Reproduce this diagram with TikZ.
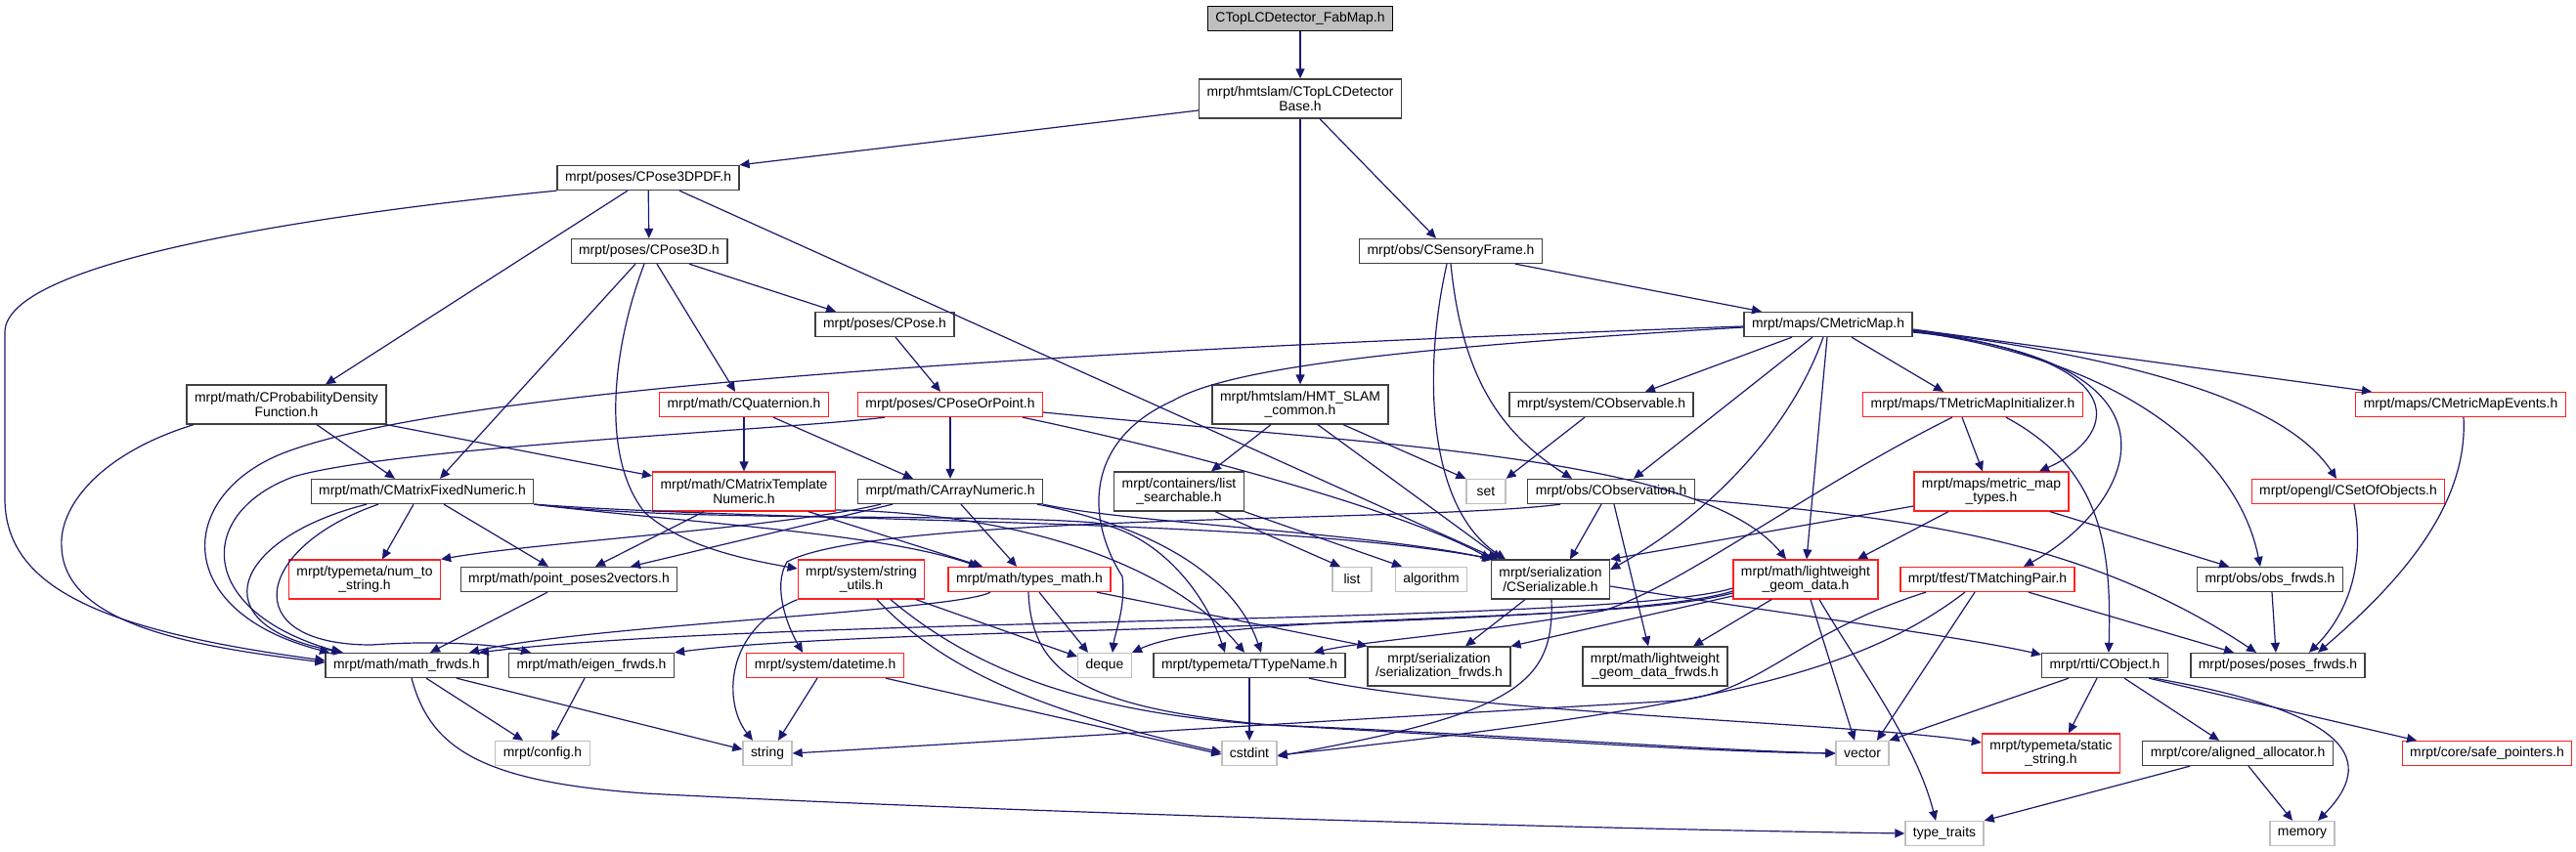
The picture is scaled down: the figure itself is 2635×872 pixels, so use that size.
\documentclass[tikz,border=0pt]{standalone}
\usepackage{fontspec}
\setmainfont{Liberation Sans}
\usetikzlibrary{arrows.meta}
\definecolor{edgec}{HTML}{191970}
\definecolor{boxc}{HTML}{404040}
\definecolor{redc}{HTML}{FF2020}
\definecolor{grayc}{HTML}{BFBFBF}
\newcommand\dfont{\fontsize{13.9pt}{14.6pt}\selectfont}
\begin{document}
\begin{tikzpicture}[x=1pt,y=-1pt,
 box/.style={draw=boxc,line width=1.3pt,fill=white,inner xsep=8pt,inner ysep=2pt,minimum height=25pt,align=center,font=\dfont},
 two/.style={minimum height=40pt},
 rbox/.style={box,draw=redc},
 gbox/.style={box,draw=grayc,minimum width=40pt},
 topbox/.style={box,draw=black,fill=grayc},
 dep/.style={draw=edgec,line width=1.2pt,-{Triangle[length=10pt,width=9pt]}}]
\fill[white] (0,0) rectangle (2635,872);
\useasboundingbox (0,0) rectangle (2635,872);
% nodes
\node[topbox] (fab) at (1330,19) {CTopLCDetector\_FabMap.h};
\node[box,two] (base) at (1330,101) {mrpt/hmtslam/CTopLCDetector\\Base.h};
\node[box] (pdf) at (663,182) {mrpt/poses/CPose3DPDF.h};
\node[box] (pose3d) at (664,257) {mrpt/poses/CPose3D.h};
\node[box] (sens) at (1484,257) {mrpt/obs/CSensoryFrame.h};
\node[box] (pose) at (905,332) {mrpt/poses/CPose.h};
\node[box] (cmm) at (1870,332) {mrpt/maps/CMetricMap.h};
\node[box,two] (cpdf) at (293,414) {mrpt/math/CProbabilityDensity\\Function.h};
\node[rbox] (quat) at (761,414) {mrpt/math/CQuaternion.h};
\node[rbox] (pop) at (972,414) {mrpt/poses/CPoseOrPoint.h};
\node[box,two] (hmt) at (1330,414) {mrpt/hmtslam/HMT\_SLAM\\\_common.h};
\node[box] (cobsv) at (1638,414) {mrpt/system/CObservable.h};
\node[rbox] (tmmi) at (2018,414) {mrpt/maps/TMetricMapInitializer.h};
\node[rbox] (cmme) at (2517,414) {mrpt/maps/CMetricMapEvents.h};
\node[box] (cmfn) at (432,503) {mrpt/math/CMatrixFixedNumeric.h};
\node[rbox,two] (cmtn) at (761,503) {mrpt/math/CMatrixTemplate\\Numeric.h};
\node[box] (can) at (972,503) {mrpt/math/CArrayNumeric.h};
\node[box,two] (lsearch) at (1206,503) {mrpt/containers/list\\\_searchable.h};
\node[gbox] (set) at (1520,503) {set};
\node[box] (cobs) at (1648,503) {mrpt/obs/CObservation.h};
\node[rbox,two] (mmt) at (2037,503) {mrpt/maps/metric\_map\\\_types.h};
\node[rbox] (csoo) at (2402,503) {mrpt/opengl/CSetOfObjects.h};
\node[rbox,two] (n2s) at (373,593) {mrpt/typemeta/num\_to\\\_string.h};
\node[box] (pp2v) at (582,593) {mrpt/math/point\_poses2vectors.h};
\node[rbox,two] (sutils) at (881,593) {mrpt/system/string\\\_utils.h};
\node[rbox] (tmath) at (1053,593) {mrpt/math/types\_math.h};
\node[gbox] (list) at (1383,593) {list};
\node[gbox] (algo) at (1464,593) {algorithm};
\node[box,two] (cser) at (1586,593) {mrpt/serialization\\/CSerializable.h};
\node[rbox,two] (lgd) at (1847,593) {mrpt/math/lightweight\\\_geom\_data.h};
\node[rbox] (tmp) at (2033,593) {mrpt/tfest/TMatchingPair.h};
\node[box] (obsf) at (2322,593) {mrpt/obs/obs\_frwds.h};
\node[box] (mf) at (416,681) {mrpt/math/math\_frwds.h};
\node[box] (ef) at (605,681) {mrpt/math/eigen\_frwds.h};
\node[rbox] (dt) at (844,681) {mrpt/system/datetime.h};
\node[gbox] (deque) at (1130,681) {deque};
\node[box] (ttn) at (1278,681) {mrpt/typemeta/TTypeName.h};
\node[box,two] (sf) at (1472,682) {mrpt/serialization\\/serialization\_frwds.h};
\node[box,two] (lgdf) at (1693,682) {mrpt/math/lightweight\\\_geom\_data\_frwds.h};
\node[box] (cobj) at (2153,681) {mrpt/rtti/CObject.h};
\node[box] (posf) at (2330,681) {mrpt/poses/poses\_frwds.h};
\node[gbox] (config) at (555,771) {mrpt/config.h};
\node[gbox] (string) at (785,771) {string};
\node[gbox] (cstdint) at (1278,771) {cstdint};
\node[gbox] (vector) at (1905,771) {vector};
\node[rbox,two] (sstr) at (2098,771) {mrpt/typemeta/static\\\_string.h};
\node[box] (aa) at (2289,771) {mrpt/core/aligned\_allocator.h};
\node[rbox] (sp) at (2544,771) {mrpt/core/safe\_pointers.h};
\node[gbox] (tt) at (1989,853) {type\_traits};
\node[gbox] (mem) at (2355,853) {memory};
% edges
\draw[dep] (fab) -- (base);
\draw[dep] ([yshift=-12pt]base.west) -- (pdf.north east);
\draw[dep] (base) -- (hmt);
\draw[dep] ([xshift=20pt]base.south) -- ([xshift=-15pt]sens.north);
\draw[dep] (pdf.south west) .. controls (300,222) and (5,270) .. (5,340) -- (5,510) .. controls (5,600) and (100,645) .. ([yshift=5pt]mf.west);
\draw[dep] ([xshift=-95pt]cpdf.south) .. controls (100,465) and (60,520) .. (63,560) .. controls (66,640) and (200,662) .. ([yshift=3pt]mf.west);
\draw[dep] (pdf) -- (pose3d);
\draw[dep] ([xshift=-21pt]pdf.south) -- ([xshift=40pt]cpdf.north);
\draw[dep] ([xshift=32pt]pdf.south) -- ([xshift=-54pt]cser.north);
\draw[dep] ([xshift=41pt]pose3d.south) -- ([xshift=-50pt]pose.north);
\draw[dep] ([xshift=8pt]pose3d.south) -- ([xshift=-9pt]quat.north);
\draw[dep] ([xshift=-14pt]pose3d.south) -- ([xshift=18pt]cmfn.north);
\draw[dep] ([xshift=-5pt]pose3d.south) .. controls (625,360) and (615,470) .. (660,525) .. controls (700,560) and (760,572) .. ([yshift=11pt]sutils.west);
\draw[dep] ([xshift=11pt]pose.south) -- ([xshift=-10pt]pop.north);
\draw[dep] ([xshift=31pt]cpdf.south) -- ([xshift=-28pt]cmfn.north);
\draw[dep] (cpdf.south east) -- ([yshift=16pt]cmtn.west);
\draw[dep] (quat) -- (cmtn);
\draw[dep] ([xshift=30pt]quat.south) -- ([xshift=-38pt]can.north);
\draw[dep] ([xshift=-67pt]pop.south) .. controls (800,440) and (400,458) .. (300,488) .. controls (200,525) and (200,625) .. ([xshift=-67pt]mf.north);
\draw[dep] (pop) -- (can);
\draw[dep] ([xshift=74pt]pop.south) .. controls (1250,470) and (1450,530) .. (cser.north west);
\draw[dep] ([yshift=-8pt]pop.east) .. controls (1400,455) and (1740,465) .. ([xshift=-20pt]lgd.north);
\draw[dep] ([xshift=-30pt]hmt.south) -- ([xshift=33pt]lsearch.north);
\draw[dep] ([xshift=44pt]hmt.south) -- (set.north west);
\draw[dep] ([xshift=18pt]hmt.south) -- ([xshift=-50pt]cser.north);
\draw[dep] ([xshift=66pt]sens.south) -- ([xshift=-68pt]cmm.north);
\draw[dep] ([xshift=-4pt]sens.south) .. controls (1455,380) and (1460,520) .. ([xshift=-46pt]cser.north);
\draw[dep] (sens.south) .. controls (1495,380) and (1530,440) .. ([xshift=-40pt]cobs.north);
\draw[dep] ([xshift=-37pt]cmm.south) -- ([xshift=45pt]cobsv.north);
\draw[dep] ([xshift=-16pt]cmm.south) -- ([xshift=23pt]cobs.north);
\draw[dep] ([xshift=-5pt]cmm.south) .. controls (1835,430) and (1760,520) .. ([yshift=10pt]cser.east);
\draw[dep] ([xshift=-1pt]cmm.south) -- ([xshift=1pt]lgd.north);
\draw[dep] ([xshift=24pt]cmm.south) -- ([xshift=-30pt]tmmi.north);
\draw[dep] ([yshift=-6pt]cmm.east) .. controls (2200,370) and (2160,450) .. ([xshift=49pt]mmt.north);
\draw[dep] ([yshift=-8pt]cmm.east) .. controls (2260,370) and (2180,520) .. ([xshift=37pt]tmp.north);
\draw[dep] ([yshift=-7pt]cmm.east) .. controls (2180,370) and (2290,470) .. ([xshift=-10pt]obsf.north);
\draw[dep] ([yshift=-6pt]cmm.east) .. controls (2250,375) and (2350,430) .. ([xshift=-12pt]csoo.north);
\draw[dep] ([yshift=-5pt]cmm.east) -- ([xshift=-91pt]cmme.north);
\draw[dep] ([yshift=-2pt]cmm.west) .. controls (1200,355) and (500,390) .. (300,460) .. controls (180,500) and (170,625) .. ([xshift=-79pt]mf.north);
\draw[dep] ([yshift=-3pt]cmm.west) .. controls (1450,355) and (1260,375) .. (1200,410) .. controls (1110,450) and (1110,530) .. (1148,590) .. controls (1152,620) and (1140,650) .. ([xshift=8pt]deque.north);
\draw[dep] ([xshift=-17pt]cobsv.south) -- (set.north east);
\draw[dep] ([xshift=-11pt]tmmi.south) -- ([xshift=-9pt]mmt.north);
\draw[dep] ([xshift=34pt]tmmi.south) .. controls (2150,480) and (2160,560) .. ([xshift=4pt]cobj.north);
\draw[dep] ([xshift=-21pt]tmmi.south) .. controls (1850,500) and (1720,600) .. (1640,625) .. controls (1500,650) and (1400,655) .. ([xshift=66pt]ttn.north);
\draw[dep] ([xshift=3pt]cmme.south) .. controls (2525,520) and (2450,600) .. ([xshift=41pt]posf.north);
\draw[dep] ([xshift=-57pt]cmfn.south) .. controls (240,550) and (200,640) .. ([xshift=-65pt]mf.north);
\draw[dep] ([xshift=-45pt]cmfn.south) .. controls (260,560) and (240,660) .. (380,660) .. controls (450,655) and (510,660) .. ([xshift=-62pt]ef.north);
\draw[dep] ([xshift=-9pt]cmfn.south) -- ([xshift=18pt]n2s.north);
\draw[dep] ([xshift=22pt]cmfn.south) -- ([xshift=-21pt]pp2v.north);
\draw[dep] (cmfn.south east) .. controls (700,535) and (900,545) .. ([xshift=-52pt]tmath.north);
\draw[dep] (cmfn.south east) .. controls (700,535) and (1000,525) .. (1120,535) .. controls (1180,545) and (1230,600) .. ([xshift=-25pt]ttn.north);
\draw[dep] (cmfn.south east) .. controls (800,535) and (1300,530) .. ([xshift=-58pt]cser.north);
\draw[dep] ([xshift=-41pt]cmtn.south) -- ([xshift=27pt]pp2v.north);
\draw[dep] ([xshift=66pt]cmtn.south) -- ([xshift=-48pt]tmath.north);
\draw[dep] ([yshift=-19pt]cmtn.east) .. controls (1050,525) and (1200,580) .. ([xshift=-5pt]ttn.north);
\draw[dep] ([xshift=-59pt]can.south) -- ([xshift=63pt]pp2v.north);
\draw[dep] ([xshift=-71pt]can.south) .. controls (800,540) and (550,555) .. (n2s.north east);
\draw[dep] ([xshift=11pt]can.south) -- ([xshift=-13pt]tmath.north);
\draw[dep] ([xshift=89pt]can.south) .. controls (1160,535) and (1260,580) .. ([xshift=12pt]ttn.north);
\draw[dep] (can.south east) .. controls (1150,535) and (1400,545) .. ([xshift=-60pt]cser.north);
\draw[dep] ([xshift=37pt]lsearch.south) -- ([xshift=-12pt]list.north);
\draw[dep] ([xshift=67pt]lsearch.south) -- ([xshift=-30pt]algo.north);
\draw[dep] ([xshift=-10pt]cobs.south) -- ([xshift=20pt]cser.north);
\draw[dep] ([xshift=3pt]cobs.south) -- ([xshift=-7pt]lgdf.north);
\draw[dep] ([yshift=-8pt]cobs.east) .. controls (1950,530) and (2130,550) .. ([xshift=-22pt]posf.north);
\draw[dep] ([xshift=-52pt]cobs.south) .. controls (1450,535) and (900,525) .. (805,575) .. controls (790,600) and (805,640) .. ([xshift=-23pt]dt.north);
\draw[dep] ([yshift=-15pt]mmt.west) -- (cser.north east);
\draw[dep] ([xshift=-44pt]mmt.south) -- ([xshift=53pt]lgd.north);
\draw[dep] ([xshift=60pt]mmt.south) -- ([xshift=-42pt]obsf.north);
\draw[dep] ([xshift=6pt]csoo.south) .. controls (2420,580) and (2400,630) .. ([xshift=32pt]posf.north);
\draw[dep] ([xshift=2pt]obsf.south) -- ([xshift=-2pt]posf.north);
\draw[dep] ([xshift=-22pt]pp2v.south) -- ([xshift=24pt]mf.north);
\draw[dep] (sutils.south west) .. controls (740,645) and (740,720) .. ([xshift=-15pt]string.north);
\draw[dep] ([xshift=56pt]sutils.south) -- ([yshift=9pt]deque.west);
\draw[dep] ([xshift=16pt]sutils.south) .. controls (960,680) and (1050,725) .. ([yshift=1pt]cstdint.west);
\draw[dep] ([xshift=30pt]sutils.south) .. controls (990,680) and (1100,730) .. (1300,742) .. controls (1500,750) and (1750,768) .. (vector.west);
\draw[dep] ([xshift=-40pt]tmath.south) .. controls (980,625) and (600,640) .. ([xshift=64pt]mf.north);
\draw[dep] ([xshift=10pt]tmath.south) -- ([xshift=-17pt]deque.north);
\draw[dep] ([xshift=-1pt]tmath.south) .. controls (1055,690) and (1110,725) .. (1300,742) .. controls (1500,753) and (1750,770) .. (vector.west);
\draw[dep] ([xshift=69pt]tmath.south) -- (sf.north west);
\draw[dep] ([xshift=-8pt]dt.south) -- ([xshift=11pt]string.north);
\draw[dep] ([xshift=62pt]dt.south) -- ([yshift=-1pt]cstdint.west);
\draw[dep] (ttn) -- (cstdint);
\draw[dep] ([xshift=61pt]ttn.south) .. controls (1500,730) and (1900,740) .. ([yshift=11pt]sstr.west);
\draw[dep] ([yshift=-7pt]cser.east) .. controls (1800,625) and (2000,650) .. ([yshift=11pt]cobj.west);
\draw[dep] ([xshift=-26pt]cser.south) -- ([xshift=27pt]sf.north);
\draw[dep] ([xshift=1pt]cser.south) .. controls (1590,700) and (1550,730) .. ([yshift=-3pt]cstdint.east);
\draw[dep] ([xshift=-35pt]lgd.south) -- ([xshift=39pt]lgdf.north);
\draw[dep] ([xshift=5pt]lgd.south) -- ([xshift=-8pt]vector.north);
\draw[dep] ([xshift=14pt]lgd.south) .. controls (1900,680) and (1960,760) .. ([xshift=-9pt]tt.north);
\draw[dep] ([yshift=-9pt]lgd.west) .. controls (1650,640) and (800,630) .. ([xshift=74pt]mf.north);
\draw[dep] ([yshift=-12pt]lgd.west) .. controls (1650,645) and (900,640) .. (ef.north east);
\draw[dep] ([yshift=-17pt]lgd.west) -- (sf.north east);
\draw[dep] ([yshift=-14pt]lgd.west) .. controls (1650,640) and (1250,625) .. (deque.north east);
\draw[dep] ([xshift=-63pt]tmp.south) .. controls (1830,650) and (1800,715) .. (1700,718) .. controls (1400,735) and (1000,760) .. (string.east);
\draw[dep] ([xshift=-23pt]tmp.south) .. controls (1900,690) and (1750,725) .. ([yshift=-2pt]cstdint.east);
\draw[dep] ([xshift=-13pt]tmp.south) -- ([xshift=15pt]vector.north);
\draw[dep] ([xshift=42pt]tmp.south) -- ([xshift=-45pt]posf.north);
\draw[dep] ([xshift=-37pt]cobj.south) -- (vector.north east);
\draw[dep] ([xshift=-8pt]cobj.south) -- ([xshift=18pt]sstr.north);
\draw[dep] ([xshift=20pt]cobj.south) -- ([xshift=-19pt]aa.north);
\draw[dep] ([xshift=50pt]cobj.south) .. controls (2410,730) and (2430,780) .. ([xshift=16pt]mem.north);
\draw[dep] ([xshift=45pt]cobj.south) -- ([xshift=-72pt]sp.north);
\draw[dep] ([xshift=-49pt]aa.south) -- (tt.north east);
\draw[dep] ([xshift=11pt]aa.south) -- ([xshift=-10pt]mem.north);
\draw[dep] ([xshift=20pt]mf.south) -- ([xshift=-20pt]config.north);
\draw[dep] ([xshift=51pt]mf.south) -- ([yshift=4pt]string.west);
\draw[dep] ([xshift=5pt]mf.south) .. controls (440,765) and (490,800) .. (660,812) .. controls (1000,830) and (1600,848) .. (tt.west);
\draw[dep] ([xshift=-7pt]ef.south) -- ([xshift=9pt]config.north);
\end{tikzpicture}
\end{document}
